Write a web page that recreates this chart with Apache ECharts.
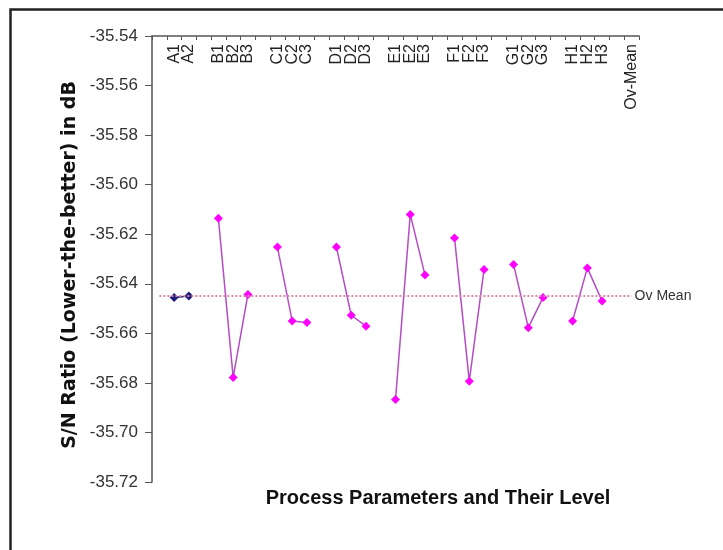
<!DOCTYPE html>
<html>
<head>
<meta charset="utf-8">
<script src="https://cdn.jsdelivr.net/npm/echarts@6/dist/echarts.min.js"></script>
<style>
html,body{margin:0;padding:0;background:#fff;}
#chart{width:723px;height:550px;}
</style>
</head>
<body>
<div id="chart"></div>
<script>
// Categories along the top axis (blank slots separate factor groups)
var categories = ['', 'A1', 'A2', '', 'B1', 'B2', 'B3', '', 'C1', 'C2', 'C3', '', 'D1', 'D2', 'D3', '',
  'E1', 'E2', 'E3', '', 'F1', 'F2', 'F3', '', 'G1', 'G2', 'G3', '', 'H1', 'H2', 'H3', '', 'Ov-Mean'];

// Factor A (dark markers)
var seriesA = [null, -35.6455, -35.6449, null, null, null, null, null, null, null, null, null, null, null, null, null,
  null, null, null, null, null, null, null, null, null, null, null, null, null, null, null, null, null];

// Factors B..H (magenta markers)
var seriesBH = [null, null, null, null, -35.6136, -35.6778, -35.6443, null, -35.6252, -35.6550, -35.6556, null,
  -35.6252, -35.6527, -35.6571, null, -35.6867, -35.6120, -35.6365, null, -35.6215, -35.6793, -35.6342, null,
  -35.6322, -35.6577, -35.6455, null, -35.6550, -35.6336, -35.6470, null, null];

// Overall mean
var overallMean = -35.6449;
var meanLabel = 'Ov Mean';

// Y axis ticks
var yMin = -35.72, yMax = -35.54, yStep = 0.02;

var chart = echarts.init(document.getElementById('chart'));
chart.setOption({
  animation: false,
  backgroundColor: '#fff',
  grid: {left: 152, top: 36, right: 84, bottom: 68, containLabel: false},
  xAxis: {
    type: 'category',
    position: 'top',
    data: categories,
    boundaryGap: true,
    axisLine: {show: true, lineStyle: {color: '#555', width: 1.5}},
    axisTick: {show: true, inside: true, length: 4, interval: 0, lineStyle: {color: '#555'}},
    axisLabel: {
      inside: true, rotate: -90, interval: 0, margin: 8,
      fontFamily: 'Liberation Sans, Arial, sans-serif', fontSize: 16, color: '#222'
    },
    splitLine: {show: false}
  },
  yAxis: {
    type: 'value',
    min: yMin, max: yMax, interval: yStep,
    axisLine: {show: true, lineStyle: {color: '#555', width: 1.5}},
    axisTick: {show: true, length: 7, lineStyle: {color: '#555'}},
    axisLabel: {
      margin: 14,
      fontFamily: 'Liberation Sans, Arial, sans-serif', fontSize: 17, color: '#333',
      formatter: function (v) { return v.toFixed(2); }
    },
    splitLine: {show: false}
  },
  graphic: [
    {type: 'rect', shape: {x: 10.5, y: 9.5, width: 740, height: 580},
     style: {fill: 'none', stroke: '#222', lineWidth: 2.5}, silent: true},
    {type: 'text', x: 70, y: 265, rotation: Math.PI / 2,
     style: {text: 'S/N Ratio (Lower-the-better) in dB', font: 'bold 19px "DejaVu Sans", Verdana, sans-serif',
       fill: '#111', textAlign: 'center', textVerticalAlign: 'middle'}},
    {type: 'text', x: 438, y: 498,
     style: {text: 'Process Parameters and Their Level', font: 'bold 20px "Liberation Sans", Arial, sans-serif',
       fill: '#111', textAlign: 'center', textVerticalAlign: 'middle'}}
  ],
  series: [
    {
      name: 'A', type: 'line', data: seriesA, connectNulls: false,
      symbol: 'diamond', symbolSize: 9,
      itemStyle: {color: '#1c1c7c'},
      lineStyle: {color: '#1c1c7c', width: 1.5}
    },
    {
      name: 'B-H', type: 'line', data: seriesBH, connectNulls: false,
      symbol: 'diamond', symbolSize: 9,
      itemStyle: {color: '#ff00ff'},
      lineStyle: {color: '#b44cc4', width: 1.5},
      markLine: {
        silent: true, symbol: 'none',
        lineStyle: {color: '#d68aa8', type: 'dotted', width: 2},
        label: {show: true, position: 'end', formatter: meanLabel, distance: 3,
          fontFamily: 'Liberation Sans, Arial, sans-serif', fontSize: 14, color: '#333'},
        data: [[{coord: [0, overallMean]}, {coord: [categories.length - 1, overallMean]}]]
      }
    }
  ]
});
</script>
</body>
</html>
